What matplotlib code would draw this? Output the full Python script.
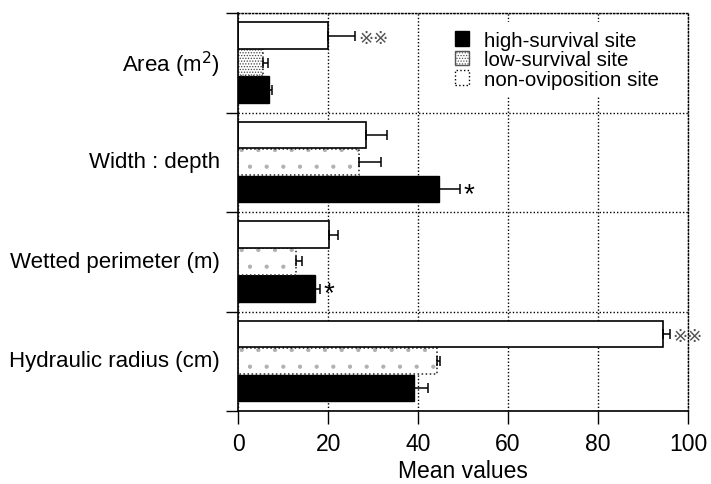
import numpy as np
import matplotlib
matplotlib.use("Agg")
import matplotlib.pyplot as plt
from matplotlib.patches import Patch

plt.rcParams['font.family'] = ['Liberation Sans', 'DejaVu Sans']
plt.rcParams['hatch.linewidth'] = 0.6

# ====== DATA ======
variables = ["Area (m$^2$)", "Width : depth", "Wetted perimeter (m)", "Hydraulic radius (cm)"]
series = ["high-survival site", "low-survival site", "non-oviposition site"]

high_mean = [6.9, 44.7, 17.1, 39.1]
high_err = [0.6, 4.6, 1.1, 3.1]
low_mean = [5.6, 26.9, 12.9, 44.2]
low_err = [1.1, 4.9, 1.3, 0.6]
non_mean = [20.0, 28.4, 20.2, 94.5]
non_err = [6.0, 4.7, 2.1, 1.5]

# significance marks: (variable index, series, label)
marks = [(0, "non", "※※"), (1, "high", "*"), (2, "high", "*"), (3, "non", "※※")]

x_ticks = [0, 20, 40, 60, 80, 100]

# ====== LAYOUT ======
fig = plt.figure(figsize=(7.11, 4.85), dpi=100)
ax = fig.add_axes([0.335, 0.1505, 0.6325, 0.8205])

n = len(variables)
grp = np.arange(n)
bar_h = 0.27
off = {"non": 0.226, "low": 0.497, "high": 0.769}
# dense stipple for the first group, sparse specks elsewhere
low_hatch = ["......", ".", ".", "."]
low_hatch_col = ["#444444", "#b0b0b0", "#b0b0b0", "#b0b0b0"]

ax.barh(grp + off["high"], high_mean, height=bar_h, color="black",
        edgecolor="black", linewidth=1, zorder=2)
for i in range(n):
    ax.barh(i + off["low"], low_mean[i], height=bar_h, color="white",
            edgecolor=low_hatch_col[i], linewidth=0, hatch=low_hatch[i],
            zorder=2)
    ax.barh(i + off["low"], low_mean[i], height=bar_h, fill=False,
            edgecolor="#222222", linewidth=1.1, linestyle=":", zorder=2)
ax.barh(grp + off["non"], non_mean, height=bar_h, color="white",
        edgecolor="black", linewidth=1.2, zorder=2)

err_kw = dict(fmt="none", ecolor="black", elinewidth=1.1, capsize=3.5,
              capthick=1.1, zorder=3)
for means, errs, key in [(high_mean, high_err, "high"),
                         (low_mean, low_err, "low"),
                         (non_mean, non_err, "non")]:
    ax.errorbar(means, grp + off[key],
                xerr=[np.zeros(n), errs], **err_kw)

lookup = {"high": (high_mean, high_err), "low": (low_mean, low_err),
          "non": (non_mean, non_err)}
for i, key, lab in marks:
    m, e = lookup[key]
    if lab == "*":
        ax.text(m[i] + e[i] + 0.8, i + off[key] + 0.05, lab, fontsize=20,
                ha="left", va="center", color="black")
    else:
        ax.text(m[i] + e[i] + 0.6, i + off[key] + 0.02, lab, fontsize=13,
                ha="left", va="center", color="#555555",
                family=["DejaVu Sans"])

# ====== AXES ======
ax.set_xlim(0, 100)
ax.set_ylim(n, 0)
ax.set_xticks(x_ticks)
ax.set_xticklabels([str(t) for t in x_ticks], fontsize=16.5)
ax.set_xlabel("Mean values", fontsize=16.5, labelpad=3)

ax.set_yticks(np.arange(n + 1))
ax.set_yticklabels([])
ax.set_yticks(grp + 0.47, minor=True)
ax.set_yticklabels(variables, minor=True, fontsize=16)
ax.tick_params(axis="y", which="minor", length=0, pad=13)
ax.tick_params(axis="y", which="major", direction="out", length=9, width=1)
ax.tick_params(axis="x", direction="out", length=9, width=1, pad=6)

ax.set_axisbelow(True)
ax.grid(True, which="major", linestyle=(0, (1, 1.5)), color="black",
        linewidth=1)
for side in ["top", "right"]:
    ax.spines[side].set_linestyle((0, (1, 1.5)))
    ax.spines[side].set_linewidth(1)
for side in ["left", "bottom"]:
    ax.spines[side].set_linewidth(1.2)

handles = [
    Patch(facecolor="black", edgecolor="black"),
    Patch(facecolor="white", edgecolor="#555555", hatch="......"),
    Patch(facecolor="white", edgecolor="black", linestyle=":"),
]
leg = ax.legend(handles, series, loc="upper left",
                bbox_to_anchor=(0.44, 1.0025), frameon=True, framealpha=1,
                facecolor="white", edgecolor="none", fontsize=14.8,
                handlelength=0.7, handleheight=0.7, handletextpad=0.75,
                labelspacing=0.03, borderpad=0.4, fancybox=False)
leg.set_zorder(4)

fig.savefig("out.png", dpi=100)
